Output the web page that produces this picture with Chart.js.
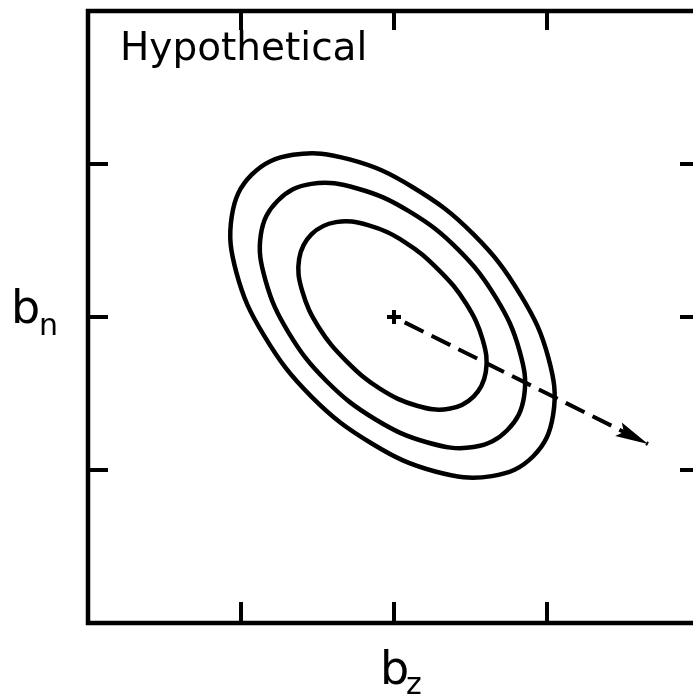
<!DOCTYPE html>
<html>
<head>
<meta charset="utf-8">
<script src="https://cdn.jsdelivr.net/npm/chart.js@4"></script>
<style>
  html, body { margin: 0; padding: 0; background: #fff; overflow: hidden; }
  #wrap { width: 712px; height: 700px; }
</style>
</head>
<body>
<div id="wrap"><canvas id="grafico" width="712" height="700"></canvas></div>
<script>
// contornos (unidades do eixo, 0..4)
const contorno1 = [[2.52,1.48],[2.60,1.64],[2.58,1.85],[2.47,2.09],[2.29,2.31],[2.07,2.49],[1.83,2.60],[1.62,2.62],[1.46,2.54],[1.38,2.38],[1.40,2.17],[1.51,1.93],[1.69,1.71],[1.91,1.53],[2.15,1.42],[2.36,1.40]]
const contorno2 = [[2.74,1.26],[2.85,1.48],[2.82,1.78],[2.67,2.12],[2.42,2.44],[2.10,2.69],[1.76,2.84],[1.46,2.87],[1.24,2.76],[1.13,2.54],[1.16,2.24],[1.31,1.90],[1.56,1.58],[1.88,1.33],[2.22,1.18],[2.52,1.15]]
const contorno3 = [[2.91,1.09],[3.04,1.36],[3.01,1.73],[2.83,2.14],[2.52,2.54],[2.12,2.85],[1.71,3.03],[1.34,3.06],[1.07,2.93],[0.94,2.66],[0.97,2.29],[1.15,1.88],[1.46,1.48],[1.86,1.17],[2.27,0.99],[2.64,0.96]]
const centro = [[2, 2]]
const seta = [[2.07, 1.965], [3.66, 1.17]]
const ticksX = [1, 2, 3]
const ticksY = [1, 2, 3]
const titulo = "Hypothetical"

const linha = (pts) => ({
    data: pts.map(p => ({ x: p[0], y: p[1] })),
    showLine: true,
    borderColor: '#000',
    borderWidth: 4.5,
    pointRadius: 0,
    tension: 0.4,
    fill: false
})

// fecha as curvas como no radar (spline contínua no ponto inicial)
const fecharCurvas = {
    id: 'fecharCurvas',
    afterDatasetsUpdate(chart) {
        [0, 1, 2].forEach(i => {
            const el = chart.getDatasetMeta(i).dataset
            el._loop = true
            el._fullLoop = true
            el._pointsUpdated = false
            el._segments = undefined
            el._path = undefined
        })
    }
}

const moldura = {
    id: 'moldura',
    afterDatasetsDraw(chart) {
        const ctx = chart.ctx
        const a = chart.chartArea
        const sx = chart.scales.x
        const sy = chart.scales.y
        ctx.save()
        ctx.strokeStyle = '#000'
        ctx.lineWidth = 4.5
        ctx.lineCap = 'butt'
        ctx.strokeRect(a.left, a.top, a.right - a.left, a.bottom - a.top)
        ctx.lineWidth = 4
        ctx.beginPath()
        ticksX.forEach(t => {
            const px = sx.getPixelForValue(t)
            ctx.moveTo(px, a.bottom); ctx.lineTo(px, a.bottom - 21)
            ctx.moveTo(px, a.top); ctx.lineTo(px, a.top + 19)
        })
        ticksY.forEach(t => {
            const py = sy.getPixelForValue(t)
            ctx.moveTo(a.left, py); ctx.lineTo(a.left + 20, py)
            ctx.moveTo(a.right, py); ctx.lineTo(a.right - 20, py)
        })
        ctx.stroke()

        // ponta da seta
        const m = chart.getDatasetMeta(4).data
        const p0 = m[0], p1 = m[1]
        const ang = Math.atan2(p1.y - p0.y, p1.x - p0.x)
        ctx.translate(p1.x, p1.y)
        ctx.rotate(ang)
        ctx.fillStyle = '#000'
        ctx.beginPath()
        ctx.moveTo(0, 0)
        ctx.lineTo(-33, -7.5)
        ctx.lineTo(-27, 0)
        ctx.lineTo(-33, 7.5)
        ctx.closePath()
        ctx.fill()
        ctx.restore()

        // textos
        ctx.save()
        ctx.fillStyle = '#000'
        ctx.textBaseline = 'alphabetic'
        ctx.font = '39px "DejaVu Sans"'
        ctx.textAlign = 'left'
        ctx.fillText(titulo, a.left + 32, a.top + 49)

        const cy = sy.getPixelForValue(2)
        ctx.font = '46px "DejaVu Sans"'
        ctx.fillText('b', 11, cy + 6)
        ctx.font = '30px "DejaVu Sans"'
        ctx.fillText('n', 39, cy + 18)

        const cx = sx.getPixelForValue(2)
        ctx.font = '46px "DejaVu Sans"'
        ctx.fillText('b', cx - 14, a.bottom + 61)
        ctx.font = '30px "DejaVu Sans"'
        ctx.fillText('z', cx + 12, a.bottom + 71)
        ctx.restore()
    }
}

new Chart(document.getElementById('grafico'), {
    type: 'scatter',
    data: {
        datasets: [
            linha(contorno1),
            linha(contorno2),
            linha(contorno3),
            {
                data: centro.map(p => ({ x: p[0], y: p[1] })),
                pointStyle: 'cross',
                pointRadius: 7,
                pointBorderWidth: 4,
                pointBorderColor: '#000'
            },
            {
                data: seta.map(p => ({ x: p[0], y: p[1] })),
                showLine: true,
                borderColor: '#000',
                borderWidth: 4,
                borderDash: [21, 9],
                pointRadius: 0
            }
        ]
    },
    options: {
        responsive: false,
        animation: false,
        devicePixelRatio: 1,
        layout: { padding: { left: 88, top: 11, right: 12, bottom: 77 } },
        plugins: { legend: { display: false }, tooltip: { enabled: false } },
        scales: {
            x: { type: 'linear', min: 0, max: 4, display: false },
            y: { type: 'linear', min: 0, max: 4, display: false }
        }
    },
    plugins: [fecharCurvas, moldura]
});
</script>
</body>
</html>
